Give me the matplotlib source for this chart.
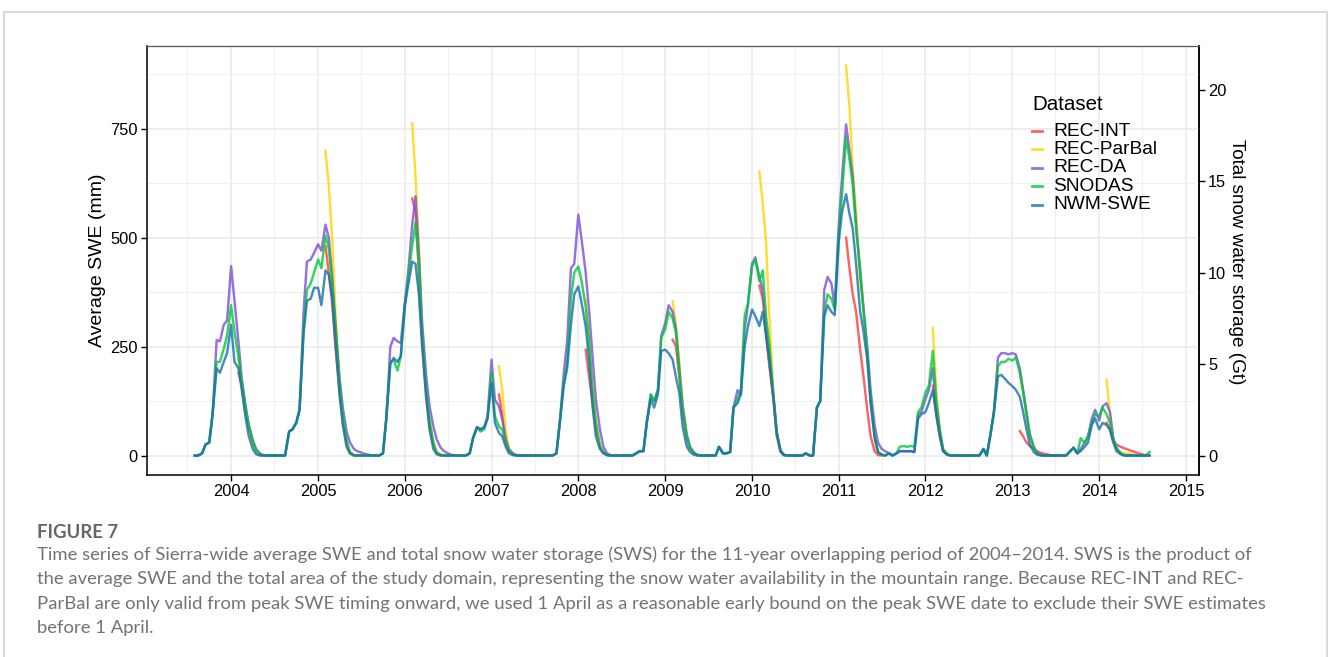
import numpy as np
import pandas as pd
import matplotlib
matplotlib.use("Agg")
import matplotlib.pyplot as plt
import matplotlib.dates as mdates
from matplotlib.lines import Line2D
from matplotlib.patches import Rectangle

plt.rcParams['font.family'] = ['Liberation Sans', 'DejaVu Sans']

# semi-monthly sampling, one row per water year (Aug 1 ... Jul 15), plus closing value
dates = pd.date_range('2003-08-01', '2014-08-01', freq='SMS')

rec_da = [
    [0, 0, 5, 25, 30, 95, 265, 262, 300, 310, 435, 355, 260, 175, 115, 70, 35, 15, 5, 1, 0, 0, 0, 0],
    [0, 0, 55, 60, 75, 105, 330, 445, 450, 465, 485, 470, 530, 500, 410, 300, 180, 110, 55, 30, 15, 10, 7, 4],
    [2, 0, 0, 0, 5, 85, 250, 270, 262, 258, 350, 420, 530, 595, 465, 304, 182, 113, 67, 37, 18, 10, 5, 2],
    [0, 0, 0, 0, 5, 40, 65, 60, 65, 90, 220, 128, 113, 83, 37, 14, 4, 1, 0, 0, 0, 0, 0, 0],
    [0, 0, 0, 0, 5, 75, 190, 262, 430, 440, 553, 495, 420, 335, 228, 128, 60, 21, 5, 1, 0, 0, 0, 0],
    [0, 0, 5, 10, 10, 75, 140, 125, 150, 275, 304, 345, 330, 290, 200, 115, 50, 20, 8, 2, 0, 0, 0, 0],
    [0, 20, 5, 5, 8, 110, 150, 140, 290, 345, 440, 455, 410, 380, 300, 230, 140, 55, 12, 2, 0, 0, 0, 0],
    [0, 5, 0, 0, 110, 125, 380, 410, 395, 340, 530, 640, 760, 700, 640, 530, 420, 340, 250, 150, 70, 30, 15, 10],
    [5, 0, 5, 10, 10, 10, 10, 8, 95, 100, 130, 150, 200, 110, 55, 12, 3, 0, 0, 0, 0, 0, 0, 0],
    [0, 0, 15, 0, 50, 100, 225, 235, 235, 232, 235, 232, 200, 150, 100, 50, 20, 6, 2, 0, 0, 0, 0, 0],
    [0, 0, 10, 18, 5, 15, 30, 45, 85, 105, 80, 113, 120, 100, 40, 15, 5, 1, 0, 0, 0, 0, 0, 0],
]
rec_da_end = 0

snodas = [
    [0, 0, 5, 25, 30, 95, 215, 215, 245, 275, 345, 285, 225, 170, 115, 70, 35, 12, 3, 0, 0, 0, 0, 0],
    [0, 0, 55, 60, 75, 105, 290, 380, 395, 420, 450, 430, 505, 475, 400, 300, 170, 90, 35, 8, 1, 0, 0, 0],
    [0, 0, 0, 0, 5, 85, 215, 220, 195, 228, 340, 410, 480, 535, 440, 270, 150, 80, 30, 8, 2, 0, 0, 0],
    [0, 0, 0, 0, 5, 40, 65, 55, 60, 85, 190, 90, 67, 60, 29, 10, 3, 0, 0, 0, 0, 0, 0, 0],
    [0, 0, 0, 0, 5, 75, 170, 212, 360, 420, 434, 400, 342, 266, 151, 75, 21, 8, 1, 0, 0, 0, 0, 0],
    [0, 0, 5, 10, 10, 75, 140, 125, 150, 270, 290, 330, 315, 280, 190, 105, 44, 18, 6, 1, 0, 0, 0, 0],
    [0, 20, 5, 5, 8, 110, 130, 150, 320, 350, 434, 450, 400, 425, 320, 255, 136, 52, 10, 1, 0, 0, 0, 0],
    [0, 5, 0, 0, 110, 125, 330, 370, 360, 335, 510, 600, 730, 680, 620, 520, 430, 330, 240, 130, 45, 8, 2, 0],
    [5, 0, 5, 20, 22, 20, 22, 20, 100, 110, 145, 160, 240, 130, 60, 15, 3, 0, 0, 0, 0, 0, 0, 0],
    [0, 0, 15, 0, 50, 100, 205, 215, 215, 222, 218, 225, 190, 145, 95, 45, 18, 5, 1, 0, 0, 0, 0, 0],
    [0, 0, 10, 18, 5, 40, 29, 44, 75, 95, 90, 110, 95, 75, 37, 18, 5, 1, 0, 0, 0, 0, 0, 0],
]
snodas_end = 8

nwm_swe = [
    [0, 0, 5, 25, 30, 95, 200, 190, 215, 235, 300, 215, 200, 150, 90, 45, 15, 3, 0, 0, 0, 0, 0, 0],
    [0, 0, 55, 60, 75, 105, 280, 355, 360, 385, 385, 345, 425, 415, 365, 260, 140, 70, 20, 5, 0, 0, 0, 0],
    [0, 0, 0, 0, 5, 85, 210, 224, 215, 228, 345, 390, 445, 440, 370, 250, 130, 60, 15, 3, 0, 0, 0, 0],
    [0, 0, 0, 0, 5, 40, 65, 60, 65, 85, 167, 75, 52, 44, 21, 5, 1, 0, 0, 0, 0, 0, 0, 0],
    [0, 0, 0, 0, 5, 75, 160, 200, 300, 370, 388, 350, 297, 220, 113, 44, 15, 5, 1, 0, 0, 0, 0, 0],
    [0, 0, 5, 10, 10, 75, 130, 110, 140, 240, 243, 235, 220, 180, 144, 67, 21, 8, 2, 0, 0, 0, 0, 0],
    [0, 20, 5, 5, 8, 110, 120, 140, 250, 297, 335, 320, 297, 330, 275, 215, 130, 50, 10, 1, 0, 0, 0, 0],
    [0, 5, 0, 0, 110, 125, 320, 345, 330, 322, 490, 560, 600, 555, 520, 440, 330, 285, 220, 120, 40, 8, 2, 0],
    [5, 0, 5, 10, 10, 10, 10, 8, 85, 95, 100, 120, 150, 95, 45, 10, 2, 0, 0, 0, 0, 0, 0, 0],
    [0, 0, 15, 0, 50, 100, 182, 185, 176, 167, 159, 151, 135, 100, 60, 25, 8, 2, 0, 0, 0, 0, 0, 0],
    [0, 0, 10, 18, 5, 10, 20, 30, 70, 85, 60, 75, 70, 60, 30, 10, 3, 0, 0, 0, 0, 0, 0, 0],
]
nwm_swe_end = 0

# REC-INT / REC-ParBal only from Feb 1 ... Jul 15 of each water year
rec_int = [
    [190, 160, 105, 65, 30, 10, 2, 0, 0, 0, 0, 0],
    [480, 420, 350, 250, 150, 80, 25, 5, 0, 0, 0, 0],
    [590, 560, 420, 260, 140, 70, 25, 5, 0, 0, 0, 0],
    [140, 95, 45, 15, 5, 1, 0, 0, 0, 0, 0, 0],
    [243, 182, 120, 60, 20, 8, 1, 0, 0, 0, 0, 0],
    [266, 251, 180, 100, 40, 15, 5, 1, 0, 0, 0, 0],
    [390, 360, 280, 205, 130, 45, 8, 1, 0, 0, 0, 0],
    [500, 430, 370, 330, 243, 182, 105, 44, 10, 1, 0, 0],
    [160, 95, 45, 10, 2, 0, 0, 0, 0, 0, 0, 0],
    [56, 44, 30, 22, 16, 10, 6, 4, 2, 0, 0, 0],
    [75, 60, 35, 25, 20, 17, 14, 11, 8, 5, 3, 1],
]
rec_parbal = [
    [225, 165, 110, 65, 30, 10, 2, 0, 0, 0, 0, 0],
    [700, 620, 500, 330, 170, 85, 25, 5, 0, 0, 0, 0],
    [763, 640, 480, 290, 160, 80, 30, 8, 0, 0, 0, 0],
    [205, 150, 60, 15, 4, 1, 0, 0, 0, 0, 0, 0],
    [358, 270, 160, 80, 25, 8, 1, 0, 0, 0, 0, 0],
    [354, 300, 215, 120, 45, 18, 6, 1, 0, 0, 0, 0],
    [652, 580, 490, 320, 140, 50, 10, 1, 0, 0, 0, 0],
    [895, 800, 660, 560, 400, 340, 230, 130, 45, 8, 2, 0],
    [293, 150, 60, 15, 3, 0, 0, 0, 0, 0, 0, 0],
    [190, 145, 95, 45, 18, 5, 1, 0, 0, 0, 0, 0],
    [174, 100, 40, 15, 8, 6, 4, 3, 2, 1, 0, 0],
]

names = ['REC-INT', 'REC-ParBal', 'REC-DA', 'SNODAS', 'NWM-SWE']
colors = ['#FF3B3B', '#FFD400', '#7B4FD6', '#00C83C', '#1A6FAD']
MM_PER_GT = 42.0


def full_year(rows, end):
    return np.array([v for r in rows for v in r] + [end], dtype=float)


def late_season(rows):
    return np.array([v for r in rows for v in [np.nan] * 12 + r] + [np.nan])


series = [late_season(rec_int), late_season(rec_parbal),
          full_year(rec_da, rec_da_end), full_year(snodas, snodas_end),
          full_year(nwm_swe, nwm_swe_end)]

W, H = 1330, 657
fig = plt.figure(figsize=(W / 100, H / 100), dpi=100)


def fx(x):
    return x / W


def fy(y):
    return 1 - y / H


# light frame around the whole figure
fig.patches.append(Rectangle((fx(4), -0.1), fx(1323), 1.1 - 12 / H,
                             transform=fig.transFigure, fill=False,
                             edgecolor='#D3D3D3', lw=1.2))

ax = fig.add_axes([fx(147), fy(475), fx(1052), 429 / H])

for name, vals, c in zip(names, series, colors):
    ax.plot(dates, vals, color=c, lw=1.75, alpha=0.8, label=name,
            solid_joinstyle='round')

ax.set_xlim(pd.Timestamp('2003-01-12'), pd.Timestamp('2015-02-25'))
ax.set_ylim(-44.7, 940)
ax.xaxis.set_major_locator(mdates.YearLocator())
ax.xaxis.set_major_formatter(mdates.DateFormatter('%Y'))
ax.xaxis.set_minor_locator(mdates.MonthLocator(bymonth=7))
ax.set_yticks([0, 250, 500, 750])
ax.set_yticks([125, 375, 625, 875], minor=True)

ax.grid(which='major', color='#EBEBEB', lw=1.2)
ax.grid(which='minor', color='#F0F0F0', lw=0.8)
ax.set_axisbelow(True)

ax.tick_params(which='major', direction='out', length=4, width=1, color='black',
               labelsize=11.8, pad=2.5, labelcolor='black')
ax.tick_params(which='minor', length=0)
for side in ['left', 'bottom', 'right']:
    ax.spines[side].set_color('black')
    ax.spines[side].set_linewidth(1.1)
ax.spines['top'].set_color('#555555')
ax.spines['top'].set_linewidth(0.9)

sec = ax.secondary_yaxis('right', functions=(lambda v: v / MM_PER_GT,
                                             lambda v: v * MM_PER_GT))
sec.set_yticks([0, 5, 10, 15, 20])
sec.tick_params(direction='out', length=4, width=1, labelsize=11.8, pad=2.5)
sec.spines['right'].set_linewidth(1.1)

fig.text(fx(97), fy(260), 'Average SWE (mm)', rotation=90, fontsize=14,
         ha='center', va='center')
fig.text(fx(1237), fy(262), 'Total snow water storage (Gt)', rotation=-90,
         fontsize=13.6, ha='center', va='center')

# legend
fig.text(fx(1032), fy(104), 'Dataset', fontsize=14.8, ha='left', va='center')
for i, (name, c) in enumerate(zip(names, colors)):
    yy = 131 + i * 18.4
    fig.add_artist(Line2D([fx(1032), fx(1042)], [fy(yy), fy(yy)], color=c,
                          lw=2, alpha=0.8, transform=fig.transFigure))
    fig.text(fx(1053), fy(yy), name, fontsize=13.8, ha='left', va='center')

# caption
cap_font = ['Lato', 'DejaVu Sans']
fig.text(fx(37), fy(532), 'FIGURE 7', fontsize=13.3, fontweight='bold',
         color='#666666', family=cap_font, va='center')
caption = [
    'Time series of Sierra-wide average SWE and total snow water storage (SWS) for the 11-year overlapping period of 2004\u20132014. SWS is the product of',
    'the average SWE and the total area of the study domain, representing the snow water availability in the mountain range. Because REC-INT and REC-',
    'ParBal are only valid from peak SWE timing onward, we used 1 April as a reasonable early bound on the peak SWE date to exclude their SWE estimates',
    'before 1 April.',
]
for i, line in enumerate(caption):
    fig.text(fx(37), fy(555 + i * 24.4), line, fontsize=13.3, color='#737373',
             family=cap_font, va='center')

fig.savefig('out.png', dpi=100)
